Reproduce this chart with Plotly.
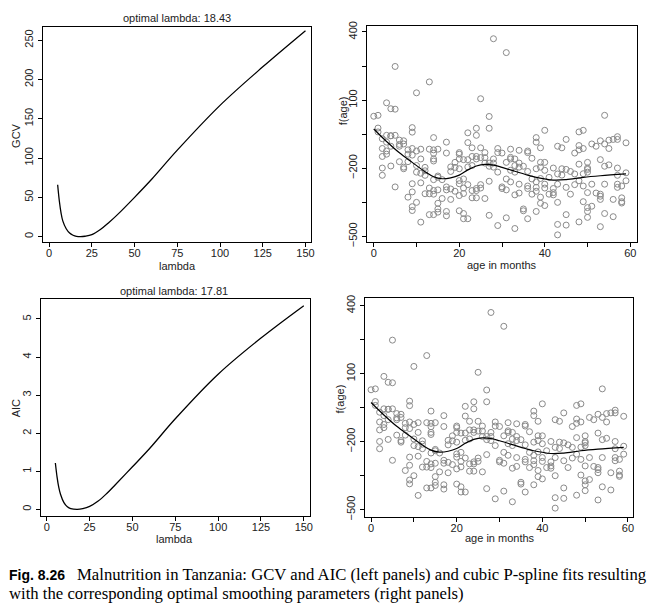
import plotly.graph_objects as go

# GCV / AIC curves
lambda_gcv = [5, 6, 7, 8, 10, 12, 14, 16, 18.43, 21, 25, 30, 35, 40, 50, 60, 75, 100, 125, 150]
gcv_vals = [66, 45, 30, 20, 10, 4.5, 1.8, 0.4, 0, 0.5, 2.5, 9, 18, 28, 50, 73, 110, 167, 216, 262]

lambda_aic = [5, 6, 7, 8, 10, 12, 14, 17.81, 21, 25, 30, 35, 40, 50, 60, 75, 100, 125, 150]
aic_vals = [1.22, 0.85, 0.58, 0.4, 0.18, 0.07, 0.02, 0, 0.02, 0.08, 0.22, 0.42, 0.65, 1.12, 1.6, 2.38, 3.55, 4.5, 5.35]

# partial residuals by age in months
obs = {
    0: [29],
    1: [33, -23, -40],
    2: [-70, -113, -148, -199, -231],
    3: [88, -55, -85, -124, -138],
    4: [62, -57, -57, -103, -190],
    5: [248, 60, -55, -282],
    6: [-76, -95, -103, -171],
    7: [-79, -93, -195, -202],
    8: [-119, -138, -171, -327],
    9: [-21, -41, -113, -142, -268, -304, -369, -386],
    10: [132, -124, -188, -217, -350],
    11: [-116, -159, -222, -264, -437],
    12: [-196, -211, -231, -312],
    13: [180, -116, -287, -312, -404],
    14: [-65, -119, -134, -159, -168, -250, -298, -314, -404],
    15: [-116, -234, -240, -295, -354, -379, -393],
    16: [-333, -250],
    17: [-85, -133, -282, -295, -390, -409],
    18: [-194, -214, -291, -337],
    19: [-174, -196, -301],
    20: [-131, -138, -159, -202, -254, -268, -320, -387],
    21: [-162, -247, -287, -311, -399, -422],
    22: [-44, -87, -162, -194, -272, -422],
    23: [-110, -148, -188, -298, -330],
    24: [-24, -55, -148, -159, -289, -298, -330],
    25: [106, -110, -153, -272, -287],
    26: [-131, -153, -177, -333],
    27: [28, -24, -177, -191, -257, -407],
    28: [370, -159, -177, -195],
    29: [-113, -131, -217, -452],
    30: [-133, -282, -289],
    31: [309, -174, -247, -295, -418],
    32: [-116, -152, -159, -209, -260],
    33: [-159, -188, -217, -317, -465],
    34: [-121, -177, -195, -270, -309],
    35: [-191, -379, -387],
    36: [-124, -131, -214, -278, -289, -422],
    37: [-156, -247, -314],
    38: [-65, -85, -202, -260, -284, -301, -390],
    39: [-110, -174, -195, -245, -327, -354],
    40: [-33, -174, -209, -270, -287, -364],
    41: [-314, -240],
    42: [-199, -289, -307, -317],
    43: [-103, -225, -270, -350, -447, -493],
    44: [-110, -202, -230],
    45: [-73, -205, -284, -404, -450],
    46: [-214, -314],
    47: [-133, -225, -272],
    48: [-40, -100, -119, -182, -255, -436],
    49: [-33, -113, -224, -278, -347],
    50: [-174, -199, -205, -217, -307, -373, -390, -416],
    51: [-93, -270, -367],
    52: [-103, -309],
    53: [-79, -162, -314, -323, -337, -457],
    54: [33, -93, -191, -270, -399],
    55: [-76, -113, -185],
    56: [-73, -337, -413],
    57: [-61, -73, -199, -231, -270, -284],
    58: [-278, -330, -347, -353],
    59: [-88, -220, -255],
}
age_obs = [a for a, vals in obs.items() for _ in vals]
f_obs = [v for vals in obs.values() for v in vals]

# fitted cubic P-spline
fit_age = [0, 3, 6, 9, 12, 14, 16, 18, 20, 22, 24, 26, 28, 30, 33, 36, 38, 42, 45, 49, 53, 59]
fit_vals = [-27, -82, -132, -174, -215, -237, -246, -242, -230, -207, -190, -183, -186, -196, -213, -230, -240, -252, -250, -240, -233, -225]

# page body has an 8px margin, so the figure is drawn 8px smaller and positions shifted
OFF = 8
W, H = 660 - OFF, 611 - OFF
FONT = "Liberation Sans"


def px(x):
    return (x - OFF) / W


def py(y):
    return 1 - (y - OFF) / H


def axis(dom, rng, dtick, tick0=0, minor=None, ylab=False):
    d = dict(domain=dom, range=rng, dtick=dtick, tick0=tick0, showgrid=False, zeroline=False,
             showline=True, linecolor="black", linewidth=1, mirror=True,
             ticks="outside", ticklen=4, tickcolor="black", tickwidth=1,
             tickfont=dict(family=FONT, size=11, color="#222"))
    if minor:
        d["minor"] = dict(dtick=minor, tick0=tick0, ticks="outside", ticklen=4, tickcolor="black")
    if ylab:
        d["tickangle"] = -90
    else:
        d["ticklabelstandoff"] = -3
    return d


fig = go.Figure()
fig.add_trace(go.Scatter(x=lambda_gcv, y=gcv_vals, mode="lines", line=dict(color="black", width=1.3, shape="spline"),
                         xaxis="x", yaxis="y", showlegend=False))
fig.add_trace(go.Scatter(x=age_obs, y=f_obs, mode="markers",
                         marker=dict(symbol="circle-open", size=6, color="#8a8a8a", line=dict(width=1)),
                         xaxis="x2", yaxis="y2", showlegend=False))
fig.add_trace(go.Scatter(x=fit_age, y=fit_vals, mode="lines", line=dict(color="black", width=1.2, shape="spline"),
                         xaxis="x2", yaxis="y2", showlegend=False))
fig.add_trace(go.Scatter(x=lambda_aic, y=aic_vals, mode="lines", line=dict(color="black", width=1.3, shape="spline"),
                         xaxis="x3", yaxis="y3", showlegend=False))
fig.add_trace(go.Scatter(x=age_obs, y=f_obs, mode="markers",
                         marker=dict(symbol="circle-open", size=6, color="#8a8a8a", line=dict(width=1)),
                         xaxis="x4", yaxis="y4", showlegend=False))
fig.add_trace(go.Scatter(x=fit_age, y=fit_vals, mode="lines", line=dict(color="black", width=1.2, shape="spline"),
                         xaxis="x4", yaxis="y4", showlegend=False))

ax = {}
ax["xaxis"] = axis([px(43), px(313)], [-3.7, 153.3], 25)
ax["yaxis"] = axis([py(241), py(22)], [-7, 267], 50, ylab=True)
ax["xaxis2"] = axis([px(369), px(641)], [-1.63, 61.6], 20, minor=10)
ax["yaxis2"] = axis([py(241), py(21)], [-525, 427], 300, tick0=100, minor=150, ylab=True)
ax["xaxis3"] = axis([px(41), px(312)], [-3.5, 153.7], 25)
ax["yaxis3"] = axis([py(519), py(299)], [-0.16, 5.52], 1, ylab=True)
ax["xaxis4"] = axis([px(367), px(637)], [-1.46, 61.2], 20, minor=10)
ax["yaxis4"] = axis([py(520), py(298)], [-530, 433], 300, tick0=100, minor=150, ylab=True)
for i in ["2", "3", "4"]:
    ax["xaxis" + i]["anchor"] = "y" + i
    ax["yaxis" + i]["anchor"] = "x" + i

labels = [
    ("optimal lambda: 18.43", 178, 13, 0),
    ("optimal lambda: 17.81", 175, 291, 0),
    ("GCV", 16, 132, -90),
    ("lambda", 179, 265, 0),
    ("f(age)", 345, 107, -90),
    ("age in months", 505, 264, 0),
    ("AIC", 16, 410, -90),
    ("lambda", 176, 543, 0),
    ("f(age)", 343, 400, -90),
    ("age in months", 503, 542, 0),
]
ann = [dict(text=t, x=px(x), y=py(y), xref="paper", yref="paper", showarrow=False, textangle=a,
            xanchor="center", yanchor="middle", font=dict(family=FONT, size=11, color="#222"))
       for t, x, y, a in labels]
ann.append(dict(text="<b>Fig. 8.26</b>", x=px(7), y=py(579), xref="paper", yref="paper", showarrow=False,
                xanchor="left", yanchor="middle", font=dict(family=FONT, size=14, color="black")))
ann.append(dict(text="Malnutrition in Tanzania: GCV and AIC (left panels) and cubic P-spline fits resulting",
                x=px(75), y=py(579), xref="paper", yref="paper", showarrow=False,
                xanchor="left", yanchor="middle", font=dict(family="Liberation Serif", size=16.7, color="black")))
ann.append(dict(text="with the corresponding optimal smoothing parameters (right panels)",
                x=px(7), y=py(598), xref="paper", yref="paper", showarrow=False,
                xanchor="left", yanchor="middle", font=dict(family="Liberation Serif", size=16.7, color="black")))

fig.update_layout(width=W, height=H, margin=dict(l=0, r=0, t=0, b=0),
                  paper_bgcolor="white", plot_bgcolor="white", annotations=ann, **ax)
fig.write_html("out.html")
